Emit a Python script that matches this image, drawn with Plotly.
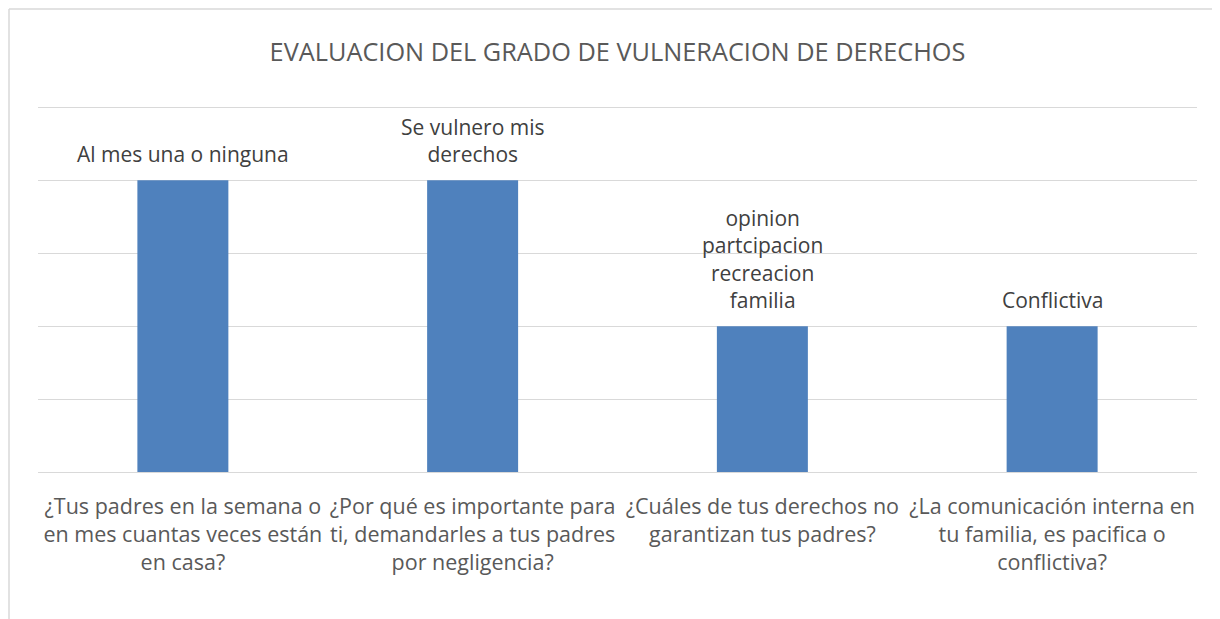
import plotly.graph_objects as go

categories = [
    "¿Tus padres en la semana o<br>en mes cuantas veces están<br>en casa?",
    "¿Por qué es importante para<br>ti, demandarles a tus padres<br>por negligencia?",
    "¿Cuáles de tus derechos no<br>garantizan tus padres?",
    "¿La comunicación interna en<br>tu familia, es pacifica o<br>conflictiva?",
]
values = [4, 4, 2, 2]
bar_labels = [
    "Al mes una o ninguna",
    "Se vulnero mis<br>derechos",
    "opinion<br>partcipacion<br>recreacion<br>familia",
    "Conflictiva",
]
title_text = "EVALUACION DEL GRADO DE VULNERACION DE DERECHOS"

FONT = "Open Sans"

fig = go.Figure()
fig.add_trace(go.Bar(
    x=categories, y=values,
    marker=dict(color="#4f81bd", line=dict(width=0)),
    width=0.314,
    hoverinfo="skip",
))

for c, v, t in zip(categories, values, bar_labels):
    fig.add_annotation(
        x=c, y=v, text=t, showarrow=False, yanchor="bottom",
        yshift=10, font=dict(family=FONT, size=21, color="#404040"),
    )

# page body adds an 8px offset
W, H = 1212, 611
L, R, T, B = 30, 23, 98, 147
pw, ph = W - L - R, H - T - B
bx = (1 - L) / pw
by = 1 + (T - 1) / ph

fig.add_shape(type="line", xref="paper", yref="paper",
              x0=bx, x1=bx, y0=-B / ph - 0.1, y1=by,
              line=dict(color="#d9d9d9", width=1.5))
fig.add_shape(type="line", xref="paper", yref="paper",
              x0=bx, x1=1 + R / pw + 0.1, y0=by, y1=by,
              line=dict(color="#d9d9d9", width=1.5))

fig.update_layout(
    width=W, height=H,
    margin=dict(l=L, r=R, t=T, b=B, autoexpand=False),
    paper_bgcolor="white", plot_bgcolor="white",
    showlegend=False,
    title=dict(text=title_text, x=0.5, xref="paper", y=1 - 44 / H,
               yanchor="middle", yref="container", automargin=False,
               font=dict(family=FONT, size=25.3, color="#595959")),
    xaxis=dict(showline=True, linecolor="#d9d9d9", linewidth=1,
               tickfont=dict(family=FONT, size=21.5, color="#595959"),
               ticks="", ticklabelstandoff=15, tickangle=0,
               automargin=False),
    yaxis=dict(range=[0, 5.02], dtick=1, showgrid=True, gridcolor="#d9d9d9",
               gridwidth=1, showticklabels=False, zeroline=False,
               fixedrange=True, automargin=False),
)

fig.write_html("out.html")
